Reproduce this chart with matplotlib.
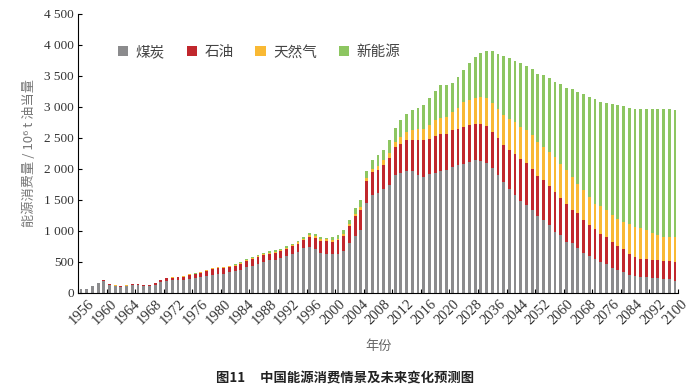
import numpy as np
import matplotlib
matplotlib.use('Agg')
import matplotlib.pyplot as plt

plt.rcParams['font.family'] = ['Noto Sans CJK SC', 'DejaVu Sans']

# 年份：1956-2020 逐年，2022-2100 每两年
years = list(range(1956, 2021)) + list(range(2022, 2101, 2))

# 单位：10^6 t 油当量
coal = [58, 62, 105, 150, 190, 130, 105, 95, 102, 120,
        122, 104, 103, 125, 168, 192, 195, 200, 200, 222,
        228, 245, 268, 290, 300, 305, 325, 350, 372, 409,
        435, 468, 500, 518, 530, 556, 586, 620, 650, 712,
        730, 700, 635, 630, 615, 625, 672, 801, 914, 1016,
        1446, 1581, 1607, 1667, 1731, 1903, 1930, 1957, 1957, 1892,
        1865, 1919, 1930, 1957, 1973,
        2027, 2054, 2081, 2110, 2135, 2130, 2100, 2010, 1900, 1788,
        1669, 1572, 1476, 1411, 1331, 1234, 1169, 1089, 981, 927,
        820, 793, 712, 642, 589, 535, 497, 460, 390, 363,
        336, 282, 266, 245, 245, 228, 239, 212, 212, 191]
oil = [2, 3, 4, 7, 10, 8, 7, 7, 9, 15,
       18, 16, 17, 24, 30, 38, 42, 46, 52, 58,
       66, 72, 78, 90, 92, 88, 86, 84, 95, 105,
       106, 107, 102, 110, 113, 110, 118, 125, 140, 130,
       168, 185, 205, 200, 205, 220, 242, 269, 322, 323,
       350, 365, 366, 397, 441, 446, 473, 500, 511, 576,
       592, 565, 591, 607, 591,
       591, 591, 591, 595, 590, 590, 585, 590, 590, 591,
       640, 673, 688, 683, 672, 645, 645, 629, 645, 608,
       618, 538, 576, 538, 500, 484, 447, 430, 430, 392,
       360, 339, 312, 301, 290, 296, 280, 301, 296, 306]
gas = [0, 0, 1, 2, 3, 2, 2, 2, 3, 4,
       4, 4, 4, 5, 6, 7, 8, 9, 10, 12,
       13, 14, 15, 16, 16, 15, 14, 13, 14, 16,
       16, 17, 18, 18, 18, 19, 19, 20, 22, 24,
       26, 27, 28, 27, 27, 27, 27, 32, 38, 43,
       53, 55, 65, 70, 81, 81, 108, 134, 150, 166,
       188, 215, 269, 258, 269,
       300, 339, 403, 400, 420, 445, 455, 465, 480, 484,
       500, 510, 511, 527, 537, 560, 538, 553, 565, 548,
       538, 537, 473, 473, 457, 419, 451, 441, 430, 441,
       446, 484, 484, 489, 473, 430, 408, 387, 382, 393]
new_energy = [0, 0, 0, 1, 2, 0, 1, 1, 1, 1,
              1, 1, 1, 1, 1, 3, 3, 3, 3, 3,
              3, 4, 4, 8, 9, 9, 10, 10, 14, 18,
              13, 15, 20, 21, 22, 25, 24, 20, 27, 32,
              38, 40, 30, 25, 43, 54, 75, 75, 92, 118,
              108, 133, 177, 172, 215, 231, 279, 296, 333, 350,
              392, 446, 473, 538, 520,
              460, 494, 522, 604, 667, 706, 768, 833, 880, 951,
              984, 984, 1032, 1032, 1065, 1091, 1167, 1199, 1209, 1280,
              1328, 1414, 1478, 1559, 1612, 1694, 1677, 1731, 1790, 1833,
              1871, 1881, 1898, 1925, 1952, 2006, 2033, 2060, 2070, 2059]

series = ['煤炭', '石油', '天然气', '新能源']
colors = ['#8b8b8d', '#c1272d', '#f9b934', '#8dc661']

fig = plt.figure(figsize=(6.91, 3.88), dpi=100)
ax = fig.add_axes([0.113, 0.246, 0.868, 0.718])

x = np.arange(len(years))
bottom = np.zeros(len(years))
for name, vals, c in zip(series, [coal, oil, gas, new_energy], colors):
    ax.bar(x, vals, width=0.5, bottom=bottom, color=c, label=name, linewidth=0)
    bottom += np.array(vals)

ax.set_xlim(-0.5, len(years) - 0.5)
ax.set_ylim(0, 4500)

# y 轴
yt = np.arange(0, 4501, 500)
ax.set_yticks(yt)
ax.set_yticklabels(['{:,}'.format(v).replace(',', ' ') for v in yt],
                   family='Liberation Serif', fontsize=9.5, color='#333333')
ax.tick_params(axis='y', direction='in', length=3, width=0.8, pad=3)

# x 轴：刻度线每 5 个类别，标签每 4 个类别
ax.set_xticks(np.arange(-0.5, len(years), 5))
ax.set_xticklabels([])
ax.tick_params(axis='x', direction='in', length=3, width=0.8)
for i in range(0, len(years), 4):
    ax.text(i + 1.1, -80, str(years[i]), rotation=45, ha='right', va='top',
            rotation_mode='anchor', family='Liberation Serif', fontsize=10.5,
            color='#333333')

for s in ['top', 'right']:
    ax.spines[s].set_visible(False)
for s in ['left', 'bottom']:
    ax.spines[s].set_linewidth(0.8)

ax.set_ylabel('能源消费量 / 10⁶ t 油当量', fontsize=9.5, color='#777777', labelpad=6)
fig.text(0.548, 0.108, '年份', ha='center', va='center', fontsize=9.5, color='#666666')
fig.text(0.5, 0.025, '图11     中国能源消费情景及未来变化预测图', ha='center', va='center',
         fontsize=9.6, fontweight='bold', color='#222222')

ax.legend(loc='upper left', bbox_to_anchor=(0.045, 0.935), ncol=4, frameon=False,
          handlelength=0.7, handleheight=0.7, handletextpad=0.5, columnspacing=1.5,
          fontsize=10.5, labelcolor='#444444')

fig.savefig('out.png', dpi=100)
